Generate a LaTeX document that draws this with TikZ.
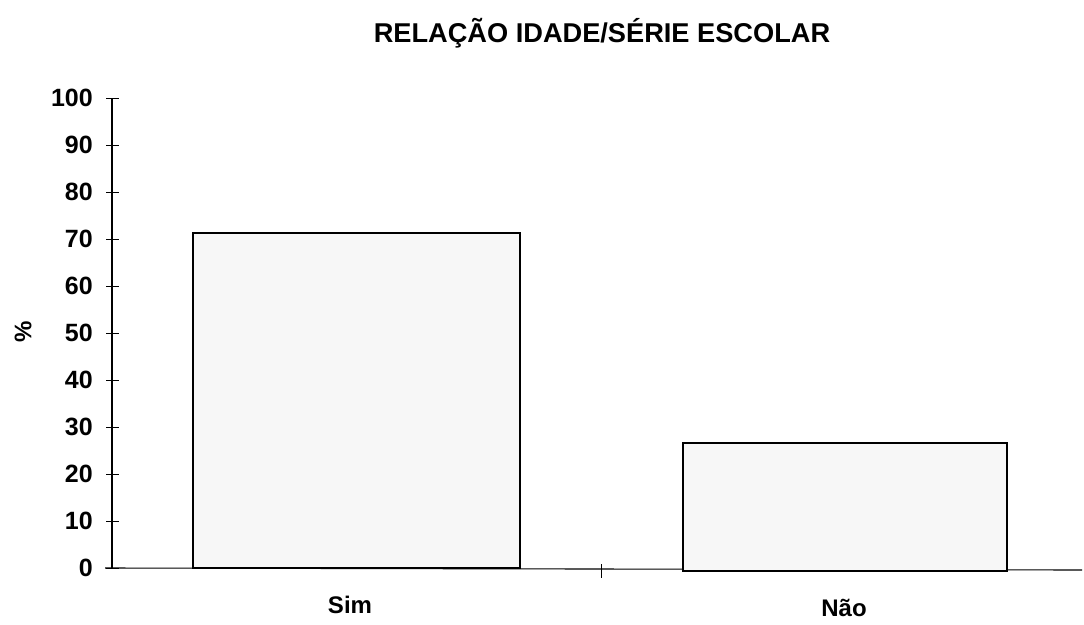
\documentclass[tikz,border=0pt]{standalone}
\usepackage{fontspec}
\setmainfont{Liberation Sans}
\begin{document}
\begin{tikzpicture}[x=1pt,y=-1pt,
  axis/.style={line width=1.1pt,black},
  tickline/.style={line width=0.9pt,black},
  bar/.style={draw=black,line width=1.2pt,fill=black!3},
  ticklabel/.style={anchor=east,font=\bfseries\fontsize{25}{28}\selectfont,inner sep=0pt},
  catlabel/.style={font=\bfseries\fontsize{24}{28}\selectfont,inner sep=0pt},
  title/.style={font=\bfseries\fontsize{27.2}{30}\selectfont,inner sep=0pt}]
\useasboundingbox (0,0) rectangle (1084,624);
% title
\node[title] (title) at (602,33) {RELAÇÃO IDADE/SÉRIE ESCOLAR};
% y axis label
\node[catlabel,rotate=90] (ylab) at (23,332) {\%};
% axes
\coordinate (o) at (112,568);
\coordinate (ytop) at (112,98);
\coordinate (xend) at (1082,570);
\draw[axis] (ytop) -- (o);
\draw[axis] (105,568) -- (xend);
% ticks and labels
\foreach \v in {0,10,...,100}{
  \pgfmathsetmacro{\yy}{568-4.7*\v}
  \draw[tickline] (106,\yy) -- (119,\yy);
  \node[ticklabel] (t\v) at (93,\yy) {\v};
}
% category tick
\draw[tickline] (601,564) -- (601,578);
% bars
\draw[bar] (193,568) rectangle (520,233);
\draw[bar] (683,571) rectangle (1007,443);
% category labels
\node[catlabel] (sim) at (350,605) {Sim};
\node[catlabel] (nao) at (844,608) {Não};
\end{tikzpicture}
\end{document}
